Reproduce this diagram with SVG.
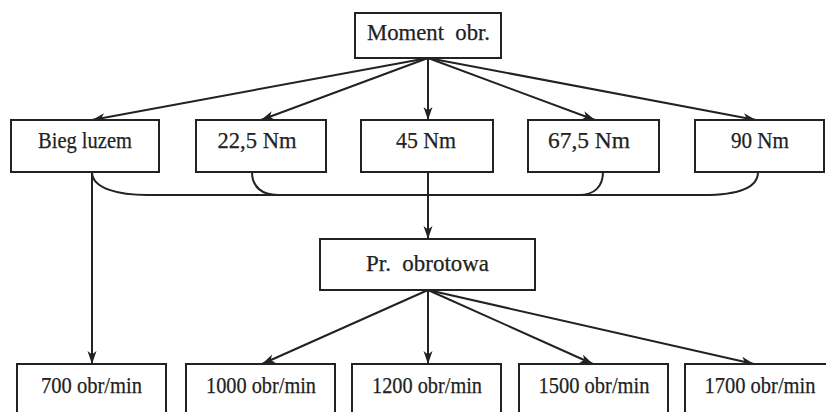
<svg xmlns="http://www.w3.org/2000/svg" width="826" height="412" viewBox="0 0 826 412">
<style>
.box{fill:#fff;stroke:#222;stroke-width:2}
.t{font-family:"Liberation Serif","Times New Roman",serif;font-size:23px;fill:#222;stroke:#222;stroke-width:0.25;text-anchor:middle;white-space:pre}
.c{fill:none;stroke:#222;stroke-width:2}
</style>
<defs>
<marker id="ah" markerUnits="userSpaceOnUse" markerWidth="14" markerHeight="10" refX="13" refY="4.5" orient="auto">
<path d="M0,0 L13,4.5 L0,9 L3.5,4.5 z" fill="#222"/>
</marker>
</defs>
<rect width="826" height="412" fill="#fff"/>
<g id="connectors">
<line class="c" x1="428" y1="58" x2="92" y2="120" marker-end="url(#ah)"/>
<line class="c" x1="428" y1="58" x2="261" y2="120" marker-end="url(#ah)"/>
<line class="c" x1="428" y1="58" x2="428" y2="120" marker-end="url(#ah)"/>
<line class="c" x1="428" y1="58" x2="595" y2="120" marker-end="url(#ah)"/>
<line class="c" x1="428" y1="58" x2="756" y2="120" marker-end="url(#ah)"/>
<path class="c" d="M92,172 C92,189 120,195 147,195 L703,195 C735,195 758,189 758,172"/>
<path class="c" d="M252,172 C252,187 262,195 278,195"/>
<path class="c" d="M603,172 C603,187 594,195 579,195"/>
<line class="c" x1="428" y1="172" x2="428" y2="239" marker-end="url(#ah)"/>
<line class="c" x1="92" y1="172" x2="92" y2="364" marker-end="url(#ah)"/>
<line class="c" x1="428" y1="290" x2="262" y2="364" marker-end="url(#ah)"/>
<line class="c" x1="428" y1="290" x2="428" y2="364" marker-end="url(#ah)"/>
<line class="c" x1="428" y1="290" x2="593" y2="364" marker-end="url(#ah)"/>
<line class="c" x1="428" y1="290" x2="754" y2="364" marker-end="url(#ah)"/>
</g>
<g id="moment"><rect class="box" x="355" y="13" width="146" height="45"/><text class="t" x="428.5" y="40" textLength="123" lengthAdjust="spacingAndGlyphs">Moment  obr.</text></g>
<g id="bieg"><rect class="box" x="11" y="120" width="148" height="52"/><text class="t" x="85" y="148" textLength="94" lengthAdjust="spacingAndGlyphs">Bieg luzem</text></g>
<g id="nm225"><rect class="box" x="196" y="120" width="130" height="52"/><text class="t" x="257" y="148" textLength="79" lengthAdjust="spacingAndGlyphs">22,5 Nm</text></g>
<g id="nm45"><rect class="box" x="361" y="120" width="132" height="52"/><text class="t" x="426" y="148" textLength="60" lengthAdjust="spacingAndGlyphs">45 Nm</text></g>
<g id="nm675"><rect class="box" x="528" y="120" width="131" height="52"/><text class="t" x="589" y="148" textLength="82" lengthAdjust="spacingAndGlyphs">67,5 Nm</text></g>
<g id="nm90"><rect class="box" x="695" y="120" width="129" height="52"/><text class="t" x="760" y="148" textLength="58" lengthAdjust="spacingAndGlyphs">90 Nm</text></g>
<g id="pr"><rect class="box" x="320" y="239" width="215" height="51"/><text class="t" x="427.5" y="271" textLength="123" lengthAdjust="spacingAndGlyphs">Pr.  obrotowa</text></g>
<g id="r700"><rect class="box" x="17" y="364" width="149" height="60"/><text class="t" x="91.5" y="393" textLength="101" lengthAdjust="spacingAndGlyphs">700 obr/min</text></g>
<g id="r1000"><rect class="box" x="186" y="364" width="149" height="60"/><text class="t" x="261" y="393" textLength="110" lengthAdjust="spacingAndGlyphs">1000 obr/min</text></g>
<g id="r1200"><rect class="box" x="352" y="364" width="149" height="60"/><text class="t" x="427" y="393" textLength="110" lengthAdjust="spacingAndGlyphs">1200 obr/min</text></g>
<g id="r1500"><rect class="box" x="519" y="364" width="149" height="60"/><text class="t" x="594" y="393" textLength="111" lengthAdjust="spacingAndGlyphs">1500 obr/min</text></g>
<g id="r1700"><rect class="box" x="685" y="364" width="149" height="60"/><text class="t" x="760" y="393" textLength="111" lengthAdjust="spacingAndGlyphs">1700 obr/min</text></g>
</svg>
